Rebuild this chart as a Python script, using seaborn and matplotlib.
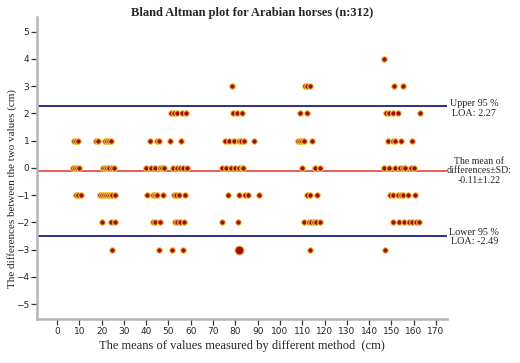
import numpy as np
import pandas as pd
import seaborn as sns
import matplotlib.pyplot as plt

# mean of the two methods (cm) for each observed difference (cm)
x_diff_4 = [146.8]
x_diff_3 = [78.5, 111.2, 112.2, 113.5, 151.3, 155.3]
x_diff_2 = [51.0, 52.5, 53.9, 55.9, 58.0, 78.9, 80.9, 82.8, 109.0, 112.0,
            147.7, 148.7, 150.8, 152.9, 162.8]
x_diff_1 = [7.8, 8.7, 9.5, 17.3, 18.4, 21.4, 22.4, 23.5, 24.3,
            41.7, 44.7, 45.6, 50.7, 55.6, 75.5, 77.3, 79.4, 81.5, 82.6,
            83.7, 88.5, 108.1, 109.0, 109.9, 110.6, 114.5,
            148.3, 150.5, 151.7, 154.4, 159.3]
x_diff_0 = [7.0, 7.9, 8.8, 9.9, 20.8, 21.7, 22.6, 23.5, 24.5, 25.4,
            39.9, 42.0, 44.1, 46.2, 47.1, 48.1, 51.9, 53.7, 55.2, 56.4, 58.2,
            73.8, 75.8, 77.9, 80.0, 81.6, 82.8, 83.4, 110.0, 115.8, 118.1,
            146.8, 149.0, 151.7, 153.8, 155.0, 156.2, 158.7, 159.9]
x_diff_m1 = [8.7, 9.5, 10.6, 19.4, 20.3, 21.2, 22.1, 23.0, 23.9, 24.8, 25.9,
             40.5, 43.2, 44.1, 45.0, 47.7, 52.5, 53.4, 54.6, 57.5, 76.5, 81.5,
             84.2, 85.5, 90.4, 112.1, 113.3, 116.4,
             149.3, 150.5, 152.8, 154.3, 155.3, 157.4, 160.4]
x_diff_m2 = [20.3, 24.2, 26.0, 42.9, 44.1, 46.2, 52.8, 53.9, 55.2, 56.9,
             74.0, 81.0, 110.8, 112.9, 114.0, 115.1, 116.3, 118.1,
             150.8, 153.5, 155.7, 157.9, 159.0, 161.0, 162.2]
x_diff_m3 = [24.8, 45.6, 51.6, 56.6, 113.3, 147.2]
x_diff_m3_big = [81.5]

mean_diff = -0.11
sd_diff = 1.22
upper_loa = 2.27
lower_loa = -2.49

groups = [(4, x_diff_4), (3, x_diff_3), (2, x_diff_2), (1, x_diff_1),
          (0, x_diff_0), (-1, x_diff_m1), (-2, x_diff_m2), (-3, x_diff_m3)]
rows = [(x, d) for d, xs in groups for x in xs]
data = pd.DataFrame(rows, columns=['mean', 'diff'])
big = pd.DataFrame({'mean': x_diff_m3_big, 'diff': [-3] * len(x_diff_m3_big)})

sns.set_style('white')
plt.rcParams['font.family'] = ['Liberation Serif', 'DejaVu Serif']

fig = plt.figure(figsize=(5.2, 3.63), dpi=100)
ax = fig.add_axes([0.071, 0.121, 0.789, 0.832])

ax.axhline(upper_loa, color='#2a2f8c', lw=1.4, zorder=1)
ax.axhline(lower_loa, color='#2a2f8c', lw=1.4, zorder=1)
ax.axhline(mean_diff, color='#ee5a5a', lw=1.4, zorder=1)

sns.scatterplot(data=data, x='mean', y='diff', ax=ax, color='#a30d0d',
                edgecolor='#f2c744', linewidth=0.8, s=16, zorder=3)
sns.scatterplot(data=big, x='mean', y='diff', ax=ax, color='#a30d0d',
                edgecolor='#f2c744', linewidth=0.8, s=42, zorder=3)

ax.set_xlim(-9, 175)
ax.set_ylim(-5.55, 5.53)
ax.set_xticks(range(0, 171, 10))
ax.set_yticks(range(-5, 6))
ax.tick_params(axis='both', labelsize=6.5, length=4, width=0.9,
               color='#333333', direction='out', left=True, bottom=True, pad=1.5)
for lab in ax.get_xticklabels() + ax.get_yticklabels():
    lab.set_family('DejaVu Sans')

sns.despine(ax=ax)
for side in ['left', 'bottom']:
    ax.spines[side].set_color('#b5b5b5')
    ax.spines[side].set_linewidth(1.8)

ax.set_xlabel('The means of values measured by different method  (cm)',
              fontsize=9, labelpad=3)
ax.set_ylabel('The differences between the two values (cm)', fontsize=8)
ax.yaxis.set_label_coords(-0.049, 0.434)

fig.text(0.485, 0.963, 'Bland Altman plot for Arabian horses (n:312)',
         ha='center', va='center', fontsize=9, fontweight='bold')

# right-hand annotations next to the reference lines
def fig_y(v):
    disp = ax.transData.transform((0, v))
    return fig.transFigure.inverted().transform(disp)[1]


fig.text(0.912, fig_y(upper_loa - 0.1), 'Upper 95 %\nLOA: 2.27',
         ha='center', va='center', fontsize=7.3, linespacing=1.1)
fig.text(0.922, fig_y(mean_diff),
         'The mean of\ndifferences\u00b1SD:\n-0.11\u00b11.22',
         ha='center', va='center', fontsize=7.1, linespacing=1.1)
fig.text(0.912, fig_y(lower_loa - 0.05), 'Lower 95 %\nLOA: -2.49',
         ha='center', va='center', fontsize=7.3, linespacing=1.1)

fig.savefig('out.png', dpi=100)
